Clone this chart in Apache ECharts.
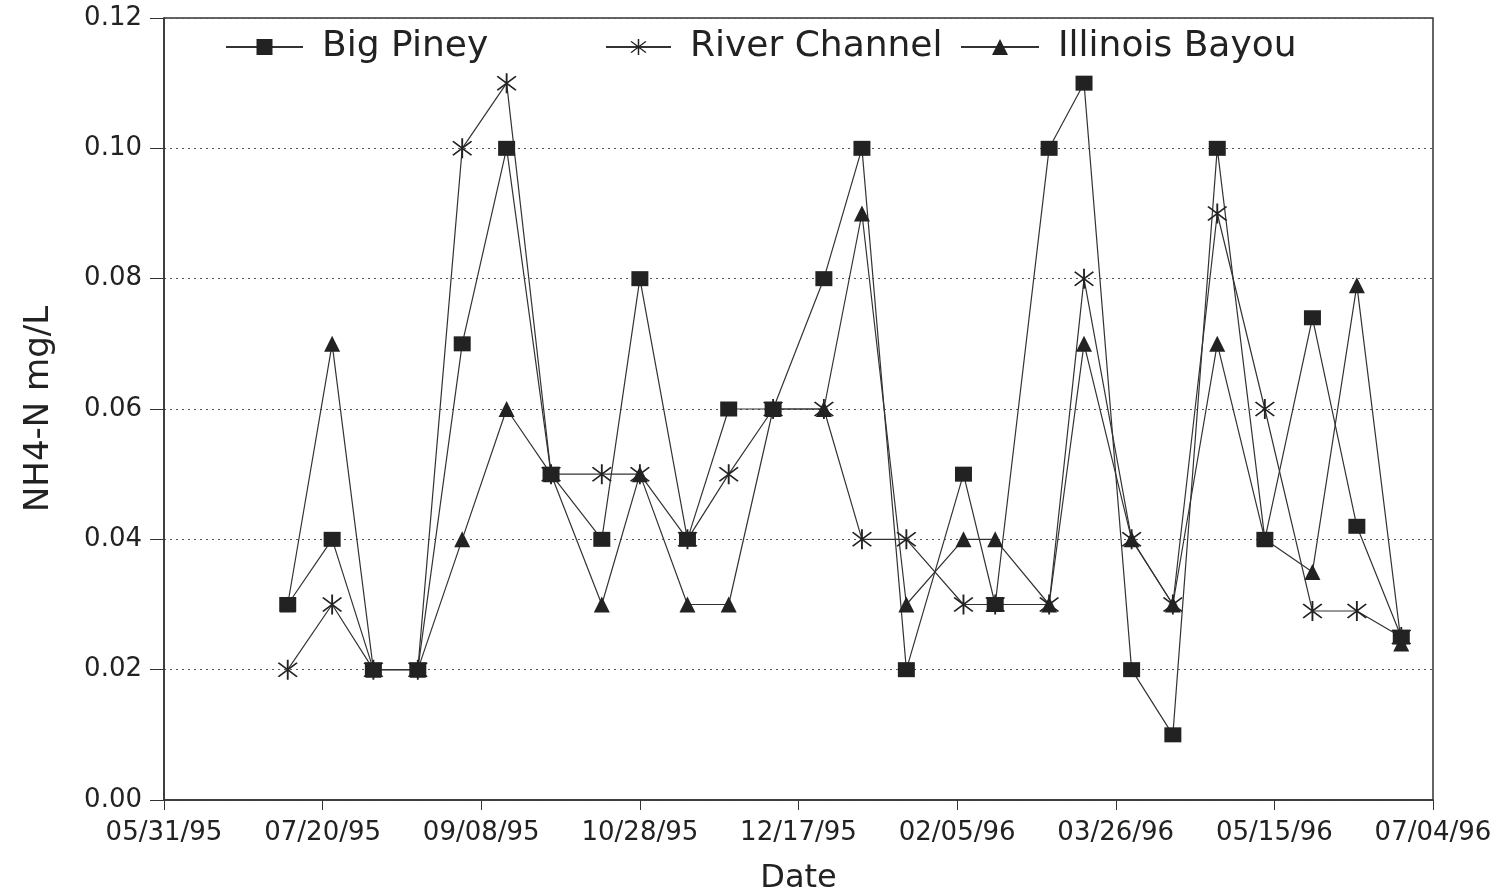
<!DOCTYPE html>
<html>
<head>
<meta charset="utf-8">
<script src="https://cdn.jsdelivr.net/npm/echarts@6/dist/echarts.min.js"></script>
<style>html,body{margin:0;padding:0;background:#fff}#c{width:1503px;height:894px}</style>
</head>
<body>
<div id="c"></div>
<script>
// ---- data ----
const dates = ['1995-07-09','1995-07-23','1995-08-05','1995-08-19','1995-09-02','1995-09-16','1995-09-30','1995-10-16','1995-10-28','1995-11-12','1995-11-25','1995-12-09','1995-12-25','1996-01-06','1996-01-20','1996-02-07','1996-02-17','1996-03-05','1996-03-16','1996-03-31','1996-04-13','1996-04-27','1996-05-12','1996-05-27','1996-06-10','1996-06-24'];
const bigPiney     = [0.030,0.040,0.020,0.020,0.070,0.100,0.050,0.040,0.080,0.040,0.060,0.060,0.080,0.100,0.020,0.050,0.030,0.100,0.110,0.020,0.010,0.100,0.040,0.074,0.042,0.025];
const riverChannel = [0.020,0.030,0.020,0.020,0.100,0.110,0.050,0.050,0.050,0.040,0.050,0.060,0.060,0.040,0.040,0.030,0.030,0.030,0.080,0.040,0.030,0.090,0.060,0.029,0.029,0.025];
const illinoisBayou= [0.030,0.070,0.020,0.020,0.040,0.060,0.050,0.030,0.050,0.030,0.030,0.060,0.060,0.090,0.030,0.040,0.040,0.030,0.070,0.040,0.030,0.070,0.040,0.035,0.079,0.024];
const xTickLabels = ['05/31/95','07/20/95','09/08/95','10/28/95','12/17/95','02/05/96','03/26/96','05/15/96','07/04/96'];
const yTickLabels = ['0.00','0.02','0.04','0.06','0.08','0.10','0.12'];
const startDate = '1995-05-31';

const DAY = 86400000;
const t0 = Date.parse(startDate + 'T00:00:00Z');
const dayOf = d => Math.round((Date.parse(d + 'T00:00:00Z') - t0) / DAY);
const pairs = vals => dates.map((d, i) => [dayOf(d), vals[i]]);

const asterisk = 'path://M9.3 0L10.7 0L10.7 20L9.3 20Z M3.5 2.5L17.5 16.5L16.5 17.5L2.5 3.5Z M16.5 2.5L17.5 3.5L3.5 17.5L2.5 16.5Z';
const FONT = 'DejaVu Sans';
const INK = '#222';
const LINE = '#333';

const chart = echarts.init(document.getElementById('c'));
const mkLegend = (name, left, w) => ({
  data: [name], left: left, top: 24, itemWidth: w, itemHeight: 20,
  textStyle: { fontFamily: FONT, fontSize: 36, color: INK, padding: [0, 0, 0, 14] },
  selectedMode: false
});
const mkSeries = (name, vals, symbol, size) => ({
  name, type: 'line', data: pairs(vals), symbol, symbolSize: size,
  showAllSymbol: true,
  lineStyle: { color: LINE, width: 1.2 },
  itemStyle: { color: INK, borderWidth: 0 },
  emphasis: { disabled: true }, animation: false
});

chart.setOption({
  animation: false,
  backgroundColor: '#fff',
  grid: { left: 164, right: 70, top: 18, bottom: 94, show: true, borderColor: LINE, borderWidth: 1.5,
          backgroundColor: 'transparent', containLabel: false, outerBoundsMode: 'none' },
  legend: [mkLegend('Big Piney', 220, 77), mkLegend('River Channel', 600, 65), mkLegend('Illinois Bayou', 955, 78)],
  xAxis: {
    type: 'value', min: 0, max: 400, interval: 50,
    name: 'Date', nameLocation: 'middle', nameGap: 63,
    nameTextStyle: { fontFamily: FONT, fontSize: 32, color: INK },
    axisLine: { lineStyle: { color: LINE, width: 1.5 } },
    axisTick: { show: true, length: 10, lineStyle: { color: LINE } },
    axisLabel: { fontFamily: FONT, fontSize: 26, color: INK, margin: 20,
      formatter: v => xTickLabels[Math.round(v / 50)] },
    splitLine: { show: false }
  },
  yAxis: {
    type: 'value', min: 0, max: 0.12, interval: 0.02,
    name: 'NH4-N mg/L', nameLocation: 'middle', nameGap: 108,
    nameTextStyle: { fontFamily: FONT, fontSize: 34, color: INK },
    axisLine: { show: true, lineStyle: { color: LINE, width: 1.5 } },
    axisTick: { show: true, length: 14, lineStyle: { color: LINE } },
    axisLabel: { fontFamily: FONT, fontSize: 26, color: INK, margin: 22,
      formatter: v => yTickLabels[Math.round(v / 0.02)] },
    splitLine: { show: true, lineStyle: { color: '#555', type: [2, 4], width: 1 } }
  },
  series: [
    mkSeries('Big Piney', bigPiney, 'rect', [17, 15]),
    mkSeries('River Channel', riverChannel, asterisk, 20),
    mkSeries('Illinois Bayou', illinoisBayou, 'triangle', 16)
  ]
});
</script>
</body>
</html>
